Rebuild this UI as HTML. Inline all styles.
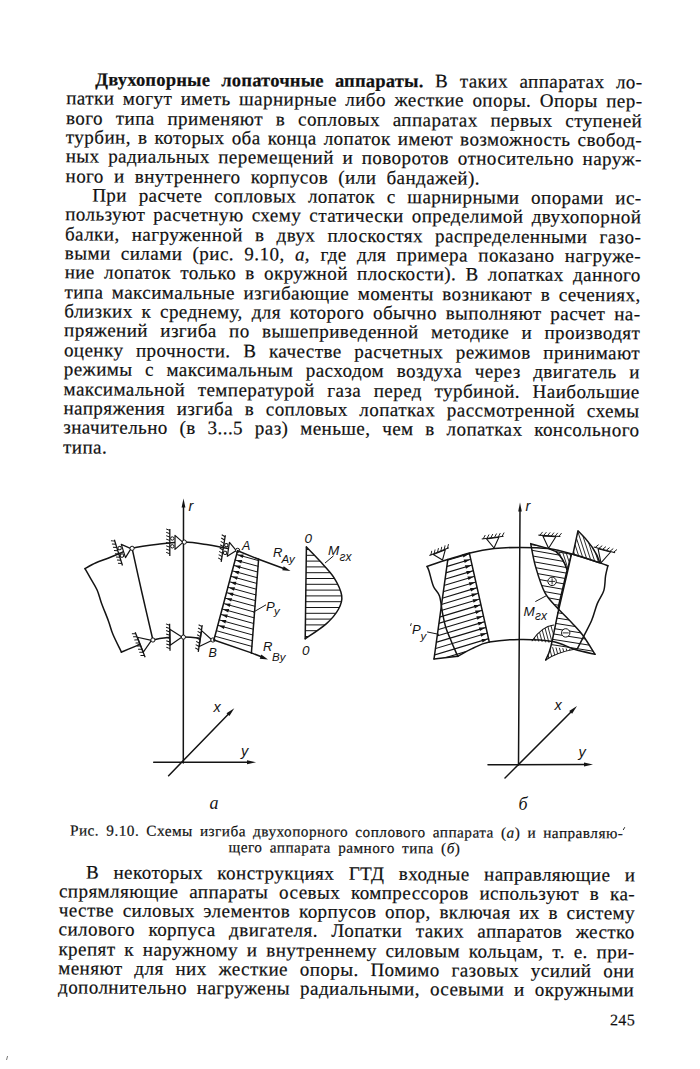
<!DOCTYPE html>
<html><head><meta charset="utf-8">
<style>
html,body{margin:0;padding:0;background:#ffffff;}
body{width:700px;height:1069px;overflow:hidden;position:relative;}
#page{position:absolute;left:0;top:0;width:700px;height:1069px;transform-origin:0 0;transform:matrix(1,0.0052,-0.0092,1,0,0);}
.j,.l,.c{position:absolute;font-family:"Liberation Serif",serif;font-size:19px;line-height:19px;letter-spacing:0.45px;color:#111;white-space:nowrap;-webkit-text-stroke:0.2px #111;}
.j{text-align:justify;text-align-last:justify;}
.l{text-align:left;word-spacing:5px;}
b{font-weight:bold;font-size:18.5px;letter-spacing:0.2px;}
i{font-style:italic;}
.c{font-size:14.4px;line-height:14.4px;}
#fig{position:absolute;left:0;top:0;}
</style></head><body>
<div id="page">
<div class="j" style="top:68.94px;left:96.00px;width:547.40px"><b>Двухопорные лопаточные аппараты.</b> В таких аппаратах ло-</div>
<div class="j" style="top:88.29px;left:67.20px;width:576.20px">патки могут иметь шарнирные либо жесткие опоры. Опоры пер-</div>
<div class="j" style="top:107.64px;left:67.20px;width:576.20px">вого типа применяют в сопловых аппаратах первых ступеней</div>
<div class="j" style="top:126.99px;left:67.20px;width:576.20px">турбин, в которых оба конца лопаток имеют возможность свобод-</div>
<div class="j" style="top:146.34px;left:67.20px;width:576.20px">ных радиальных перемещений и поворотов относительно наруж-</div>
<div class="l" style="top:165.69px;left:67.20px;width:576.20px">ного и внутреннего корпусов (или бандажей).</div>
<div class="j" style="top:185.04px;left:94.00px;width:549.40px">При расчете сопловых лопаток с шарнирными опорами ис-</div>
<div class="j" style="top:204.39px;left:67.20px;width:576.20px">пользуют расчетную схему статически определимой двухопорной</div>
<div class="j" style="top:223.74px;left:67.20px;width:576.20px">балки, нагруженной в двух плоскостях распределенными газо-</div>
<div class="j" style="top:243.09px;left:67.20px;width:576.20px">выми силами (рис. 9.10, <i>а,</i> где для примера показано нагруже-</div>
<div class="j" style="top:262.44px;left:67.20px;width:576.20px">ние лопаток только в окружной плоскости). В лопатках данного</div>
<div class="j" style="top:281.79px;left:67.20px;width:576.20px">типа максимальные изгибающие моменты возникают в сечениях,</div>
<div class="j" style="top:301.14px;left:67.20px;width:576.20px">близких к среднему, для которого обычно выполняют расчет на-</div>
<div class="j" style="top:320.49px;left:67.20px;width:576.20px">пряжений изгиба по вышеприведенной методике и производят</div>
<div class="j" style="top:339.84px;left:67.20px;width:576.20px">оценку прочности. В качестве расчетных режимов принимают</div>
<div class="j" style="top:359.19px;left:67.20px;width:576.20px">режимы с максимальным расходом воздуха через двигатель и</div>
<div class="j" style="top:378.54px;left:67.20px;width:576.20px">максимальной температурой газа перед турбиной. Наибольшие</div>
<div class="j" style="top:397.89px;left:67.20px;width:576.20px">напряжения изгиба в сопловых лопатках рассмотренной схемы</div>
<div class="j" style="top:417.24px;left:67.20px;width:576.20px">значительно (в 3...5 раз) меньше, чем в лопатках консольного</div>
<div class="l" style="top:436.59px;left:67.20px;width:576.20px">типа.</div>
<div class="j" style="top:861.54px;left:94.00px;width:549.40px">В некоторых конструкциях ГТД входные направляющие и</div>
<div class="j" style="top:880.84px;left:67.20px;width:576.20px">спрямляющие аппараты осевых компрессоров используют в ка-</div>
<div class="j" style="top:900.14px;left:67.20px;width:576.20px">честве силовых элементов корпусов опор, включая их в систему</div>
<div class="j" style="top:919.44px;left:67.20px;width:576.20px">силового корпуса двигателя. Лопатки таких аппаратов жестко</div>
<div class="j" style="top:938.74px;left:67.20px;width:576.20px">крепят к наружному и внутреннему силовым кольцам, т. е. при-</div>
<div class="j" style="top:958.04px;left:67.20px;width:576.20px">меняют для них жесткие опоры. Помимо газовых усилий они</div>
<div class="j" style="top:977.34px;left:67.20px;width:576.20px">дополнительно нагружены радиальными, осевыми и окружными</div>
<div class="c j" style="letter-spacing:0.5px;font-size:15.2px;line-height:15.2px;top:822.37px;left:77.70px;width:553.30px">Рис. 9.10. Схемы изгиба двухопорного соплового аппарата (<i>а</i>) и направляю-</div>
<div class="c j" style="letter-spacing:0.5px;font-size:15.2px;line-height:15.2px;top:837.77px;left:236.40px;width:231.80px">щего аппарата рамного типа (<i>б</i>)</div>
<div class="c" style="font-size:16px;line-height:16px;top:1008.90px;left:619.3px;text-align:left;word-spacing:0">245</div>
</div>
<svg id="fig" width="700" height="1069" viewBox="0 0 700 1069"><defs><clipPath id="c1"><path d="M306.4,547.0 C308.7,549.4 315.8,556.5 320.4,561.6 C325.0,566.7 330.2,571.7 333.8,577.4 C337.4,583.1 340.9,590.4 341.7,595.7 C342.5,601.0 341.1,604.4 338.6,609.0 C336.1,613.6 332.1,618.6 326.5,623.6 C320.9,628.6 308.8,636.3 305.2,638.8 Z"/></clipPath><clipPath id="c2"><path d="M447.8,559.6 L469.3,552.9 L489.3,642.1 L472.1,648.6 L457.9,656.2 L434,659 Z"/></clipPath><clipPath id="c3"><path d="M530.7,543.6 C531.5,547.5 533.3,558.9 535.7,567.1 C538.1,575.3 541.3,586.0 545.0,592.9 C548.7,599.8 555.8,606.0 557.9,608.6 L567.1,570 C565,563 561,556 556,551.6 L548.6,548.6 Z"/></clipPath><clipPath id="c4"><path d="M556,551.6 L571.4,554.3 L567.1,570 C565,563 561,556 556,551.6 Z"/></clipPath><clipPath id="c5"><path d="M578,530.7 L572.9,554.3 L600,562.9 C597,553 592,544 578,530.7 Z"/></clipPath><clipPath id="c6"><path d="M557.9,608.6 C560.2,611.0 567.8,618.5 572.0,623.0 C576.2,627.5 579.2,630.3 583.0,635.5 C586.8,640.7 593.0,651.2 595.0,654.3 L574.3,649.3 L550.7,647.1 Z"/></clipPath><clipPath id="c7"><path d="M532.1,640.7 C538,632 546,626 553.6,625 L551.4,642.9 Z"/></clipPath><clipPath id="c8"><path d="M545.7,660 L550.7,647.1 L574.3,649.3 C565,651 553,655 545.7,660 Z"/></clipPath></defs><line x1="183.3" y1="763.0" x2="183.5" y2="506.0" stroke="#141414" stroke-width="1.5" stroke-linecap="round"/>
<polygon points="183.5,498.5 185.4,507.5 181.6,507.5" fill="#141414"/>
<text x="188.5" y="510.5" font-family="Liberation Sans" font-style="italic" font-size="14.5" fill="#141414" text-anchor="start">r</text>
<line x1="153.7" y1="762.3" x2="249.0" y2="762.3" stroke="#141414" stroke-width="1.5" stroke-linecap="round"/>
<polygon points="256.0,762.3 247.0,764.3 247.0,760.3" fill="#141414"/>
<text x="241" y="756" font-family="Liberation Sans" font-style="italic" font-size="14.5" fill="#141414" text-anchor="start">y</text>
<line x1="168.6" y1="775.7" x2="229.0" y2="713.5" stroke="#141414" stroke-width="1.5" stroke-linecap="round"/>
<polygon points="234.3,708.3 229.4,716.1 226.5,713.3" fill="#141414"/>
<text x="213.5" y="711.5" font-family="Liberation Sans" font-style="italic" font-size="14.5" fill="#141414" text-anchor="start">x</text>
<path d="M85.0,568.6 C86.8,567.6 92.2,564.5 96.0,562.8 C99.8,561.1 104.0,559.8 108.0,558.2 C112.0,556.6 116.0,554.9 120.0,553.3 C124.0,551.6 125.8,549.8 132.1,548.3 C138.4,546.8 149.3,545.3 158.0,544.3 C166.7,543.3 176.0,542.0 184.3,542.1 C192.6,542.2 201.7,543.9 208.0,544.8 C214.3,545.7 217.2,546.5 222.1,547.4 C227.0,548.3 235.0,549.9 237.6,550.4" fill="none" stroke="#141414" stroke-width="1.5" stroke-linecap="round" stroke-linejoin="round"/>
<path d="M121.4,652.1 C124.0,651.0 131.8,647.6 137.0,645.6 C142.2,643.6 147.7,641.3 152.9,640.0 C158.1,638.7 162.9,638.1 168.0,637.6 C173.1,637.1 178.4,637.0 183.4,637.1 C188.4,637.2 193.1,637.5 198.0,638.0 C202.9,638.5 210.4,639.7 212.9,640.0" fill="none" stroke="#141414" stroke-width="1.5" stroke-linecap="round" stroke-linejoin="round"/>
<path d="M85.0,568.6 C86.0,570.3 88.7,575.0 90.7,578.6 C92.7,582.2 95.3,586.0 97.1,590.0 C98.9,594.0 99.5,597.7 101.4,602.9 C103.3,608.1 106.7,616.2 108.6,621.4 C110.5,626.6 110.8,629.2 112.9,634.3 C115.0,639.4 120.0,649.1 121.4,652.1" fill="none" stroke="#141414" stroke-width="1.5" stroke-linecap="round" stroke-linejoin="round"/>
<path d="M132.1,548.3 C133.8,555.8 138.5,577.7 142.0,593.0 C145.5,608.3 151.1,632.2 152.9,640.0" fill="none" stroke="#141414" stroke-width="1.5" stroke-linecap="round" stroke-linejoin="round"/>
<g transform="translate(131.0,548.6) rotate(-17.5)"><polygon points="0,0 -8,-7 -8,7" fill="#fdfdfd" stroke="#141414" stroke-width="1.2" stroke-linejoin="round"/><circle cx="-10.7" cy="-3.9" r="1.7" fill="#fdfdfd" stroke="#141414" stroke-width="1.0"/><circle cx="-10.7" cy="3.9" r="1.7" fill="#fdfdfd" stroke="#141414" stroke-width="1.0"/><line x1="-13.2" y1="-13.5" x2="-13.2" y2="13.5" stroke="#141414" stroke-width="1.3"/><path d="M-13.2,-12.0 L-16.8,-13.4 M-13.2,-8.7 L-16.8,-10.1 M-13.2,-5.3 L-16.8,-6.7 M-13.2,-1.9 L-16.8,-3.3 M-13.2,1.4 L-16.8,0.0 M-13.2,4.8 L-16.8,3.4 M-13.2,8.1 L-16.8,6.7 M-13.2,11.4 L-16.8,10.0" stroke="#141414" stroke-width="1.0"/></g>
<g transform="translate(183.0,542.4) rotate(0.0)"><polygon points="0,0 -8,-7 -8,7" fill="#fdfdfd" stroke="#141414" stroke-width="1.2" stroke-linejoin="round"/><circle cx="-10.7" cy="-3.9" r="1.7" fill="#fdfdfd" stroke="#141414" stroke-width="1.0"/><circle cx="-10.7" cy="3.9" r="1.7" fill="#fdfdfd" stroke="#141414" stroke-width="1.0"/><line x1="-13.2" y1="-13.5" x2="-13.2" y2="13.5" stroke="#141414" stroke-width="1.3"/><path d="M-13.2,-12.0 L-16.8,-13.4 M-13.2,-8.7 L-16.8,-10.1 M-13.2,-5.3 L-16.8,-6.7 M-13.2,-1.9 L-16.8,-3.3 M-13.2,1.4 L-16.8,0.0 M-13.2,4.8 L-16.8,3.4 M-13.2,8.1 L-16.8,6.7 M-13.2,11.4 L-16.8,10.0" stroke="#141414" stroke-width="1.0"/></g>
<g transform="translate(236.3,550.6) rotate(8.8)"><polygon points="0,0 -8,-7 -8,7" fill="#fdfdfd" stroke="#141414" stroke-width="1.2" stroke-linejoin="round"/><circle cx="-10.7" cy="-3.9" r="1.7" fill="#fdfdfd" stroke="#141414" stroke-width="1.0"/><circle cx="-10.7" cy="3.9" r="1.7" fill="#fdfdfd" stroke="#141414" stroke-width="1.0"/><line x1="-13.2" y1="-13.5" x2="-13.2" y2="13.5" stroke="#141414" stroke-width="1.3"/><path d="M-13.2,-12.0 L-16.8,-13.4 M-13.2,-8.7 L-16.8,-10.1 M-13.2,-5.3 L-16.8,-6.7 M-13.2,-1.9 L-16.8,-3.3 M-13.2,1.4 L-16.8,0.0 M-13.2,4.8 L-16.8,3.4 M-13.2,8.1 L-16.8,6.7 M-13.2,11.4 L-16.8,10.0" stroke="#141414" stroke-width="1.0"/></g>
<g transform="translate(151.5,640.3) rotate(-21.6)"><polygon points="0,0 -12,-8 -12,8" fill="#fdfdfd" stroke="#141414" stroke-width="1.2" stroke-linejoin="round"/><line x1="-12.2" y1="-13.5" x2="-12.2" y2="13.5" stroke="#141414" stroke-width="1.3"/><path d="M-12.2,-12.0 L-15.799999999999999,-13.4 M-12.2,-8.7 L-15.799999999999999,-10.1 M-12.2,-5.3 L-15.799999999999999,-6.7 M-12.2,-1.9 L-15.799999999999999,-3.3 M-12.2,1.4 L-15.799999999999999,0.0 M-12.2,4.8 L-15.799999999999999,3.4 M-12.2,8.1 L-15.799999999999999,6.7 M-12.2,11.4 L-15.799999999999999,10.0" stroke="#141414" stroke-width="1.0"/></g>
<g transform="translate(182.0,637.0) rotate(-1.0)"><polygon points="0,0 -12,-8 -12,8" fill="#fdfdfd" stroke="#141414" stroke-width="1.2" stroke-linejoin="round"/><line x1="-12.2" y1="-13.5" x2="-12.2" y2="13.5" stroke="#141414" stroke-width="1.3"/><path d="M-12.2,-12.0 L-15.799999999999999,-13.4 M-12.2,-8.7 L-15.799999999999999,-10.1 M-12.2,-5.3 L-15.799999999999999,-6.7 M-12.2,-1.9 L-15.799999999999999,-3.3 M-12.2,1.4 L-15.799999999999999,0.0 M-12.2,4.8 L-15.799999999999999,3.4 M-12.2,8.1 L-15.799999999999999,6.7 M-12.2,11.4 L-15.799999999999999,10.0" stroke="#141414" stroke-width="1.0"/></g>
<g transform="translate(212.3,640.3) rotate(8.4)"><polygon points="0,0 -12,-8 -12,8" fill="#fdfdfd" stroke="#141414" stroke-width="1.2" stroke-linejoin="round"/><line x1="-12.2" y1="-13.5" x2="-12.2" y2="13.5" stroke="#141414" stroke-width="1.3"/><path d="M-12.2,-12.0 L-15.799999999999999,-13.4 M-12.2,-8.7 L-15.799999999999999,-10.1 M-12.2,-5.3 L-15.799999999999999,-6.7 M-12.2,-1.9 L-15.799999999999999,-3.3 M-12.2,1.4 L-15.799999999999999,0.0 M-12.2,4.8 L-15.799999999999999,3.4 M-12.2,8.1 L-15.799999999999999,6.7 M-12.2,11.4 L-15.799999999999999,10.0" stroke="#141414" stroke-width="1.0"/></g>
<circle cx="132.1" cy="548.3" r="2.1" fill="#fdfdfd" stroke="#141414" stroke-width="1.0"/>
<circle cx="184.3" cy="542.1" r="2.1" fill="#fdfdfd" stroke="#141414" stroke-width="1.0"/>
<circle cx="237.6" cy="550.4" r="2.1" fill="#fdfdfd" stroke="#141414" stroke-width="1.0"/>
<circle cx="152.9" cy="640.0" r="2.1" fill="#fdfdfd" stroke="#141414" stroke-width="1.0"/>
<circle cx="183.4" cy="637.1" r="2.1" fill="#fdfdfd" stroke="#141414" stroke-width="1.0"/>
<circle cx="212.9" cy="640.0" r="2.1" fill="#fdfdfd" stroke="#141414" stroke-width="1.0"/>
<line x1="237.6" y1="550.7" x2="258.6" y2="559.3" stroke="#141414" stroke-width="1.5" stroke-linecap="round"/>
<line x1="258.6" y1="559.3" x2="251.4" y2="652.9" stroke="#141414" stroke-width="1.5" stroke-linecap="round"/>
<line x1="237.6" y1="550.7" x2="213.9" y2="640.0" stroke="#141414" stroke-width="1.5" stroke-linecap="round"/>
<line x1="258.6" y1="559.3" x2="285.0" y2="569.0" stroke="#141414" stroke-width="1.5" stroke-linecap="round"/>
<polygon points="290.5,571.0 282.2,570.3 283.7,566.2" fill="#141414"/>
<line x1="213.9" y1="640.0" x2="251.4" y2="652.9" stroke="#141414" stroke-width="1.5" stroke-linecap="round"/>
<line x1="251.4" y1="652.9" x2="262.0" y2="657.0" stroke="#141414" stroke-width="1.5" stroke-linecap="round"/>
<polygon points="268.0,659.5 259.7,658.8 261.3,654.6" fill="#141414"/>
<line x1="236.6" y1="554.5" x2="258.5" y2="560.6" stroke="#141414" stroke-width="1.0" stroke-linecap="round"/>
<polygon points="237.4,554.7 243.7,554.6 242.7,558.1" fill="#141414"/>
<line x1="235.1" y1="560.0" x2="258.1" y2="566.3" stroke="#141414" stroke-width="1.0" stroke-linecap="round"/>
<polygon points="235.9,560.2 242.2,560.0 241.2,563.5" fill="#141414"/>
<line x1="233.7" y1="565.4" x2="257.6" y2="572.0" stroke="#141414" stroke-width="1.0" stroke-linecap="round"/>
<polygon points="234.5,565.6 240.8,565.5 239.8,569.0" fill="#141414"/>
<line x1="232.3" y1="570.8" x2="257.2" y2="577.7" stroke="#141414" stroke-width="1.0" stroke-linecap="round"/>
<polygon points="233.1,571.1 239.3,570.9 238.4,574.4" fill="#141414"/>
<line x1="230.8" y1="576.3" x2="256.7" y2="583.4" stroke="#141414" stroke-width="1.0" stroke-linecap="round"/>
<polygon points="231.6,576.5 237.9,576.4 236.9,579.8" fill="#141414"/>
<line x1="229.4" y1="581.7" x2="256.3" y2="589.2" stroke="#141414" stroke-width="1.0" stroke-linecap="round"/>
<polygon points="230.2,582.0 236.4,581.8 235.5,585.3" fill="#141414"/>
<line x1="227.9" y1="587.2" x2="255.9" y2="594.9" stroke="#141414" stroke-width="1.0" stroke-linecap="round"/>
<polygon points="228.7,587.4 235.0,587.3 234.0,590.7" fill="#141414"/>
<line x1="226.5" y1="592.6" x2="255.4" y2="600.6" stroke="#141414" stroke-width="1.0" stroke-linecap="round"/>
<polygon points="227.3,592.8 233.5,592.7 232.6,596.2" fill="#141414"/>
<line x1="225.0" y1="598.1" x2="255.0" y2="606.3" stroke="#141414" stroke-width="1.0" stroke-linecap="round"/>
<polygon points="225.8,598.3 232.1,598.2 231.1,601.6" fill="#141414"/>
<line x1="223.6" y1="603.5" x2="254.5" y2="612.1" stroke="#141414" stroke-width="1.0" stroke-linecap="round"/>
<polygon points="224.4,603.7 230.6,603.6 229.7,607.1" fill="#141414"/>
<line x1="222.1" y1="609.0" x2="254.1" y2="617.8" stroke="#141414" stroke-width="1.0" stroke-linecap="round"/>
<polygon points="222.9,609.2 229.2,609.0 228.2,612.5" fill="#141414"/>
<line x1="220.7" y1="614.4" x2="253.7" y2="623.5" stroke="#141414" stroke-width="1.0" stroke-linecap="round"/>
<polygon points="221.5,614.6 227.8,614.5 226.8,618.0" fill="#141414"/>
<line x1="219.2" y1="619.9" x2="253.2" y2="629.2" stroke="#141414" stroke-width="1.0" stroke-linecap="round"/>
<polygon points="220.0,620.1 226.3,619.9 225.4,623.4" fill="#141414"/>
<line x1="217.8" y1="625.3" x2="252.8" y2="635.0" stroke="#141414" stroke-width="1.0" stroke-linecap="round"/>
<polygon points="218.6,625.5 224.9,625.4 223.9,628.9" fill="#141414"/>
<line x1="216.4" y1="630.7" x2="252.3" y2="640.7" stroke="#141414" stroke-width="1.0" stroke-linecap="round"/>
<line x1="214.9" y1="636.2" x2="251.9" y2="646.4" stroke="#141414" stroke-width="1.0" stroke-linecap="round"/>
<text x="242" y="550" font-family="Liberation Sans" font-style="italic" font-size="12.5" fill="#141414" text-anchor="start">A</text>
<text x="208.5" y="656.5" font-family="Liberation Sans" font-style="italic" font-size="12.5" fill="#141414" text-anchor="start">B</text>
<text x="273" y="557" font-family="Liberation Sans" font-style="italic" font-size="13" fill="#141414" text-anchor="start">R</text>
<text x="281.5" y="563" font-family="Liberation Sans" font-style="italic" font-size="11.5" fill="#141414" text-anchor="start">Ay</text>
<text x="263" y="650.5" font-family="Liberation Sans" font-style="italic" font-size="13" fill="#141414" text-anchor="start">R</text>
<text x="272" y="661" font-family="Liberation Sans" font-style="italic" font-size="11.5" fill="#141414" text-anchor="start">By</text>
<text x="266" y="610.5" font-family="Liberation Sans" font-style="italic" font-size="13" fill="#141414" text-anchor="start">P</text>
<text x="274" y="614.5" font-family="Liberation Sans" font-style="italic" font-size="11.5" fill="#141414" text-anchor="start">y</text>
<line x1="253.6" y1="612.0" x2="265.7" y2="605.0" stroke="#141414" stroke-width="1.0" stroke-linecap="round"/>
<g clip-path="url(#c1)"><path d="M267.9,537.9 L377.1,537.9 M267.9,543.7 L377.1,543.7 M267.9,549.5 L377.1,549.5 M267.9,555.3 L377.1,555.3 M267.9,561.1 L377.1,561.1 M267.9,566.9 L377.1,566.9 M267.9,572.7 L377.1,572.7 M267.9,578.5 L377.1,578.5 M267.9,584.3 L377.1,584.3 M267.9,590.1 L377.1,590.1 M267.9,595.9 L377.1,595.9 M267.9,601.7 L377.1,601.7 M267.9,607.5 L377.1,607.5 M267.9,613.3 L377.1,613.3 M267.9,619.1 L377.1,619.1 M267.9,624.9 L377.1,624.9 M267.9,630.7 L377.1,630.7 M267.9,636.5 L377.1,636.5 M267.9,642.3 L377.1,642.3" stroke="#141414" stroke-width="1.0" fill="none"/></g>
<path d="M306.4,547.0 C308.7,549.4 315.8,556.5 320.4,561.6 C325.0,566.7 330.2,571.7 333.8,577.4 C337.4,583.1 340.9,590.4 341.7,595.7 C342.5,601.0 341.1,604.4 338.6,609.0 C336.1,613.6 332.1,618.6 326.5,623.6 C320.9,628.6 308.8,636.3 305.2,638.8" fill="none" stroke="#141414" stroke-width="1.5" stroke-linecap="round" stroke-linejoin="round"/>
<line x1="306.4" y1="547.0" x2="305.2" y2="638.8" stroke="#141414" stroke-width="1.5" stroke-linecap="round"/>
<text x="304.5" y="543" font-family="Liberation Sans" font-style="italic" font-size="13.5" fill="#141414" text-anchor="start">0</text>
<text x="302" y="655" font-family="Liberation Sans" font-style="italic" font-size="13.5" fill="#141414" text-anchor="start">0</text>
<text x="328" y="555" font-family="Liberation Sans" font-style="italic" font-size="13.5" fill="#141414" text-anchor="start">M</text>
<text x="339.5" y="560.5" font-family="Liberation Sans" font-style="italic" font-size="12" fill="#141414" text-anchor="start">гх</text>
<line x1="325.3" y1="562.8" x2="333.2" y2="556.1" stroke="#141414" stroke-width="1.0" stroke-linecap="round"/>
<text x="209.5" y="808.6" font-family="Liberation Serif" font-style="italic" font-size="18" fill="#141414" text-anchor="start">a</text>
<line x1="518.5" y1="765.0" x2="520.0" y2="510.0" stroke="#141414" stroke-width="1.5" stroke-linecap="round"/>
<polygon points="520.0,502.5 521.8,511.5 518.2,511.5" fill="#141414"/>
<text x="525.5" y="511" font-family="Liberation Sans" font-style="italic" font-size="14.5" fill="#141414" text-anchor="start">r</text>
<line x1="488.0" y1="764.8" x2="586.0" y2="764.5" stroke="#141414" stroke-width="1.5" stroke-linecap="round"/>
<polygon points="593.0,764.4 584.0,766.4 584.0,762.4" fill="#141414"/>
<text x="578.5" y="757" font-family="Liberation Sans" font-style="italic" font-size="14.5" fill="#141414" text-anchor="start">y</text>
<line x1="505.0" y1="778.0" x2="572.0" y2="711.0" stroke="#141414" stroke-width="1.5" stroke-linecap="round"/>
<polygon points="577.0,706.0 572.1,713.8 569.2,710.9" fill="#141414"/>
<text x="554.5" y="710" font-family="Liberation Sans" font-style="italic" font-size="14.5" fill="#141414" text-anchor="start">x</text>
<path d="M427.1,566.4 C430.7,565.2 441.5,561.5 448.6,559.3 C455.8,557.0 462.4,554.7 470.0,552.9 C477.6,551.1 486.0,549.5 494.3,548.6 C502.6,547.7 510.9,547.4 520.0,547.4 C529.0,547.4 539.8,547.5 548.6,548.6 C557.4,549.8 564.3,551.9 572.9,554.3 C581.5,556.7 594.2,561.0 600.0,562.9 C605.8,564.8 606.6,565.2 607.9,565.7" fill="none" stroke="#141414" stroke-width="1.5" stroke-linecap="round" stroke-linejoin="round"/>
<path d="M457.9,656.4 C460.3,655.1 466.9,651.0 472.1,648.6 C477.3,646.2 481.3,643.6 489.3,642.1 C497.3,640.6 509.4,639.5 520.0,639.4 C530.6,639.3 543.9,639.8 552.9,641.4 C561.9,643.0 567.3,647.1 574.3,649.3 C581.3,651.4 591.5,653.5 595.0,654.3" fill="none" stroke="#141414" stroke-width="1.5" stroke-linecap="round" stroke-linejoin="round"/>
<path d="M427.1,566.4 C427.4,567.2 427.9,567.7 429.0,571.0 C430.1,574.3 431.6,582.0 433.4,586.2 C435.1,590.4 438.0,591.5 439.5,596.0 C441.0,600.5 441.4,607.7 442.5,613.0 C443.6,618.3 444.4,623.0 446.0,628.0 C447.6,633.0 450.1,638.3 452.0,643.0 C453.9,647.7 456.8,654.0 457.7,656.2" fill="none" stroke="#141414" stroke-width="1.5" stroke-linecap="round" stroke-linejoin="round"/>
<path d="M607.9,565.7 C607.5,567.4 606.3,571.6 605.6,575.7 C604.9,579.9 605.2,586.0 603.8,590.6 C602.4,595.2 599.3,598.7 597.3,603.6 C595.3,608.5 593.9,615.0 591.7,620.3 C589.5,625.5 586.7,630.3 584.3,635.1 C581.9,639.9 578.4,646.7 577.2,649.0" fill="none" stroke="#141414" stroke-width="1.5" stroke-linecap="round" stroke-linejoin="round"/>
<line x1="447.8" y1="559.6" x2="434.0" y2="659.0" stroke="#141414" stroke-width="1.5" stroke-linecap="round"/>
<line x1="469.3" y1="552.9" x2="489.3" y2="642.1" stroke="#141414" stroke-width="1.5" stroke-linecap="round"/>
<line x1="434.0" y1="659.0" x2="457.9" y2="656.2" stroke="#141414" stroke-width="1.5" stroke-linecap="round"/>
<polygon points="468.7,553.9 463.4,557.4 462.4,553.9" fill="#141414"/>
<polygon points="469.9,559.6 464.7,563.0 463.7,559.6" fill="#141414"/>
<polygon points="471.2,565.2 466.0,568.7 464.9,565.2" fill="#141414"/>
<polygon points="472.5,570.9 467.3,574.4 466.2,570.9" fill="#141414"/>
<polygon points="473.8,576.6 468.5,580.0 467.5,576.6" fill="#141414"/>
<polygon points="475.0,582.3 469.8,585.7 468.8,582.2" fill="#141414"/>
<polygon points="476.3,587.9 471.1,591.4 470.0,587.9" fill="#141414"/>
<polygon points="477.6,593.6 472.3,597.0 471.3,593.6" fill="#141414"/>
<polygon points="478.8,599.3 473.6,602.7 472.6,599.3" fill="#141414"/>
<polygon points="480.1,604.9 474.9,608.4 473.8,604.9" fill="#141414"/>
<polygon points="481.4,610.6 476.1,614.0 475.1,610.6" fill="#141414"/>
<polygon points="482.7,616.3 477.4,619.7 476.4,616.3" fill="#141414"/>
<polygon points="483.9,621.9 478.7,625.4 477.7,621.9" fill="#141414"/>
<polygon points="485.2,627.6 480.0,631.0 478.9,627.6" fill="#141414"/>
<polygon points="486.5,633.3 481.2,636.7 480.2,633.3" fill="#141414"/>
<polygon points="487.7,638.9 482.5,642.4 481.5,638.9" fill="#141414"/>
<g clip-path="url(#c2)"><path d="M445.7,560.8 L470.5,553.4 M444.8,567.1 L471.7,559.0 M444.0,573.4 L473.0,564.7 M443.1,579.7 L474.3,570.4 M442.2,586.0 L475.6,576.0 M441.3,592.3 L476.8,581.7 M440.5,598.7 L478.1,587.4 M439.6,605.0 L479.4,593.0 M438.7,611.3 L480.6,598.7 M437.8,617.6 L481.9,604.4 M437.0,623.9 L483.2,610.0 M436.1,630.2 L484.5,615.7 M435.2,636.5 L485.7,621.4 M434.3,642.9 L487.0,627.1 M433.4,649.2 L488.3,632.7 M432.6,655.5 L489.5,638.4 M431.7,661.8 L490.8,644.1" stroke="#141414" stroke-width="1.1" fill="none"/></g>
<text x="412" y="634" font-family="Liberation Sans" font-style="italic" font-size="13" fill="#141414" text-anchor="start">P</text>
<text x="420.5" y="639.5" font-family="Liberation Sans" font-style="italic" font-size="11.5" fill="#141414" text-anchor="start">y</text>
<line x1="427.5" y1="632.0" x2="438.6" y2="634.3" stroke="#141414" stroke-width="1.0" stroke-linecap="round"/>
<g transform="translate(442.5,560.0) rotate(-22.0)"><polygon points="0,0 -6.5,-8.5 6.5,-8.5" fill="none" stroke="#141414" stroke-width="1.1" stroke-linejoin="round"/><line x1="-10.5" y1="-9.0" x2="10.5" y2="-9.0" stroke="#141414" stroke-width="1.1"/><path d="M-9.0,-9.0 L-6.5,-12.5 M-5.4,-9.0 L-2.9,-12.5 M-1.8,-9.0 L0.7,-12.5 M1.8,-9.0 L4.3,-12.5 M5.4,-9.0 L7.9,-12.5 M9.0,-9.0 L11.5,-12.5" stroke="#141414" stroke-width="0.9"/></g>
<g transform="translate(494.0,548.0) rotate(-7.4)"><polygon points="0,0 -6.25,-10 6.25,-10" fill="none" stroke="#141414" stroke-width="1.1" stroke-linejoin="round"/><line x1="-11.0" y1="-10.5" x2="11.0" y2="-10.5" stroke="#141414" stroke-width="1.1"/><path d="M-9.5,-10.5 L-7.0,-14 M-5.7,-10.5 L-3.2,-14 M-1.9,-10.5 L0.6,-14 M1.9,-10.5 L4.4,-14 M5.7,-10.5 L8.2,-14 M9.5,-10.5 L12.0,-14" stroke="#141414" stroke-width="0.9"/></g>
<g transform="translate(548.6,548.3) rotate(3.6)"><polygon points="0,0 -6.5,-12 6.5,-12" fill="none" stroke="#141414" stroke-width="1.1" stroke-linejoin="round"/><line x1="-11.0" y1="-12.5" x2="11.0" y2="-12.5" stroke="#141414" stroke-width="1.1"/><path d="M-9.5,-12.5 L-7.0,-16 M-5.7,-12.5 L-3.2,-16 M-1.9,-12.5 L0.6,-16 M1.9,-12.5 L4.4,-16 M5.7,-12.5 L8.2,-16 M9.5,-12.5 L12.0,-16" stroke="#141414" stroke-width="0.9"/></g>
<g transform="translate(601.0,562.9) rotate(14.8)"><polygon points="0,0 -6.5,-13 6.5,-13" fill="none" stroke="#141414" stroke-width="1.1" stroke-linejoin="round"/><line x1="-11.0" y1="-13.5" x2="11.0" y2="-13.5" stroke="#141414" stroke-width="1.1"/><path d="M-9.5,-13.5 L-7.0,-17 M-5.7,-13.5 L-3.2,-17 M-1.9,-13.5 L0.6,-17 M1.9,-13.5 L4.4,-17 M5.7,-13.5 L8.2,-17 M9.5,-13.5 L12.0,-17" stroke="#141414" stroke-width="0.9"/></g>
<g clip-path="url(#c3)"><path d="M514.2,524.8 L601.2,540.2 M513.2,530.2 L600.2,545.6 M512.2,535.6 L599.3,551.0 M511.3,541.1 L598.3,556.4 M510.3,546.5 L597.4,561.8 M509.4,551.9 L596.4,567.2 M508.4,557.3 L595.5,572.7 M507.5,562.7 L594.5,578.1 M506.5,568.1 L593.6,583.5 M505.6,573.6 L592.6,588.9 M504.6,579.0 L591.6,594.3 M503.6,584.4 L590.7,599.7 M502.7,589.8 L589.7,605.2 M501.7,595.2 L588.8,610.6 M500.8,600.6 L587.8,616.0 M499.8,606.1 L586.9,621.4 M498.9,611.5 L585.9,626.8" stroke="#141414" stroke-width="1.0" fill="none"/></g>
<path d="M530.7,543.6 C531.5,547.5 533.3,558.9 535.7,567.1 C538.1,575.3 541.3,586.0 545.0,592.9 C548.7,599.8 555.8,606.0 557.9,608.6 L567.1,570 C565,563 561,556 556,551.6 L548.6,548.6 Z" fill="none" stroke="#141414" stroke-width="1.5" stroke-linecap="round" stroke-linejoin="round"/>
<g clip-path="url(#c4)"><path d="M575.1,538.8 L585.7,571.6 M572.0,539.8 L582.7,572.6 M569.0,540.8 L579.6,573.5 M565.9,541.7 L576.6,574.5 M562.9,542.7 L573.5,575.5 M559.9,543.7 L570.5,576.5 M556.8,544.7 L567.5,577.5 M553.8,545.7 L564.4,578.5 M550.7,546.7 L561.4,579.5 M547.7,547.7 L558.3,580.5 M544.6,548.7 L555.3,581.5" stroke="#141414" stroke-width="0.9" fill="none"/></g>
<path d="M556,551.6 L571.4,554.3 L567.1,570 C565,563 561,556 556,551.6 Z" fill="none" stroke="#141414" stroke-width="1.0" stroke-linecap="round" stroke-linejoin="round"/>
<g clip-path="url(#c5)"><path d="M603.9,512.8 L620.7,564.4 M600.7,513.8 L617.5,565.5 M597.5,514.9 L614.3,566.5 M594.2,515.9 L611.0,567.6 M591.0,517.0 L607.8,568.6 M587.8,518.0 L604.6,569.7 M584.5,519.1 L601.3,570.7 M581.3,520.1 L598.1,571.8 M578.1,521.2 L594.9,572.8 M574.8,522.2 L591.6,573.9 M571.6,523.3 L588.4,574.9 M568.4,524.3 L585.2,576.0 M565.1,525.4 L581.9,577.0 M561.9,526.4 L578.7,578.1 M558.7,527.5 L575.5,579.1 M555.4,528.5 L572.2,580.2" stroke="#141414" stroke-width="0.9" fill="none"/></g>
<path d="M578,530.7 L572.9,554.3 L600,562.9 C597,553 592,544 578,530.7 Z" fill="none" stroke="#141414" stroke-width="1.5" stroke-linecap="round" stroke-linejoin="round"/>
<path d="M571.4,554.3 C570.8,556.9 570.0,560.7 567.9,570.0 C565.8,579.3 561.5,597.1 558.6,610.0 C555.7,622.9 552.9,638.8 550.7,647.1 C548.6,655.4 546.5,657.9 545.7,660.0" fill="none" stroke="#141414" stroke-width="1.5" stroke-linecap="round" stroke-linejoin="round"/>
<g clip-path="url(#c6)"><path d="M541.7,588.4 L616.1,600.2 M540.8,593.7 L615.3,605.5 M540.0,599.0 L614.5,610.8 M539.1,604.4 L613.6,616.2 M538.3,609.7 L612.8,621.5 M537.4,615.0 L611.9,626.8 M536.6,620.4 L611.1,632.2 M535.7,625.7 L610.2,637.5 M534.9,631.0 L609.4,642.8 M534.1,636.4 L608.5,648.2 M533.2,641.7 L607.7,653.5 M532.4,647.0 L606.9,658.8 M531.5,652.4 L606.0,664.2 M530.7,657.7 L605.2,669.5" stroke="#141414" stroke-width="1.0" fill="none"/></g>
<path d="M557.9,608.6 C560.2,611.0 567.8,618.5 572.0,623.0 C576.2,627.5 579.2,630.3 583.0,635.5 C586.8,640.7 593.0,651.2 595.0,654.3" fill="none" stroke="#141414" stroke-width="1.5" stroke-linecap="round" stroke-linejoin="round"/>
<g clip-path="url(#c7)"><path d="M556.7,609.8 L566.7,647.2 M553.6,610.6 L563.6,648.0 M550.5,611.4 L560.5,648.8 M547.4,612.3 L557.4,649.7 M544.3,613.1 L554.3,650.5 M541.2,613.9 L551.3,651.3 M538.1,614.8 L548.2,652.2 M535.1,615.6 L545.1,653.0 M532.0,616.4 L542.0,653.8 M528.9,617.2 L538.9,654.6 M525.8,618.1 L535.8,655.5 M522.7,618.9 L532.7,656.3 M519.6,619.7 L529.6,657.1" stroke="#141414" stroke-width="0.9" fill="none"/></g>
<path d="M532.1,640.7 C538,632 546,626 553.6,625" fill="none" stroke="#141414" stroke-width="1.1" stroke-linecap="round" stroke-linejoin="round"/>
<g clip-path="url(#c8)"><path d="M574.0,628.3 L584.7,668.0 M570.9,629.1 L581.6,668.9 M567.9,630.0 L578.5,669.7 M564.8,630.8 L575.4,670.5 M561.7,631.6 L572.3,671.4 M558.6,632.5 L569.2,672.2 M555.5,633.3 L566.1,673.0 M552.4,634.1 L563.0,673.8 M549.3,634.9 L560.0,674.7 M546.2,635.8 L556.9,675.5 M543.1,636.6 L553.8,676.3 M540.0,637.4 L550.7,677.1 M536.9,638.3 L547.6,678.0" stroke="#141414" stroke-width="0.9" fill="none"/></g>
<path d="M545.7,660 C553,655 565,651 574.3,649.3" fill="none" stroke="#141414" stroke-width="1.1" stroke-linecap="round" stroke-linejoin="round"/>
<circle cx="552.1" cy="581.4" r="4.2" fill="#fdfdfd" stroke="#141414" stroke-width="1.0"/>
<line x1="549.5" y1="581.4" x2="554.7" y2="581.4" stroke="#141414" stroke-width="0.9" stroke-linecap="round"/>
<line x1="552.1" y1="578.8" x2="552.1" y2="584.0" stroke="#141414" stroke-width="0.9" stroke-linecap="round"/>
<circle cx="565.7" cy="632.9" r="4.2" fill="#fdfdfd" stroke="#141414" stroke-width="1.0"/>
<line x1="563.1" y1="632.9" x2="568.3" y2="632.9" stroke="#141414" stroke-width="0.9" stroke-linecap="round"/>
<text x="523.5" y="616" font-family="Liberation Sans" font-style="italic" font-size="13.5" fill="#141414" text-anchor="start">M</text>
<text x="535" y="620" font-family="Liberation Sans" font-style="italic" font-size="12" fill="#141414" text-anchor="start">гх</text>
<line x1="535.7" y1="601.4" x2="546.4" y2="595.7" stroke="#141414" stroke-width="1.0" stroke-linecap="round"/>
<text x="518.5" y="810.4" font-family="Liberation Serif" font-style="italic" font-size="18" fill="#141414" text-anchor="start">б</text>
<path d="M623.2,830 L624.8,827.2" stroke="#141414" stroke-width="0.9"/>
<path d="M6.5,1060 L7.6,1056" stroke="#555" stroke-width="0.8"/>
<path d="M410.5,626 L411.3,623.2" stroke="#141414" stroke-width="0.9"/></svg>
</body></html>
